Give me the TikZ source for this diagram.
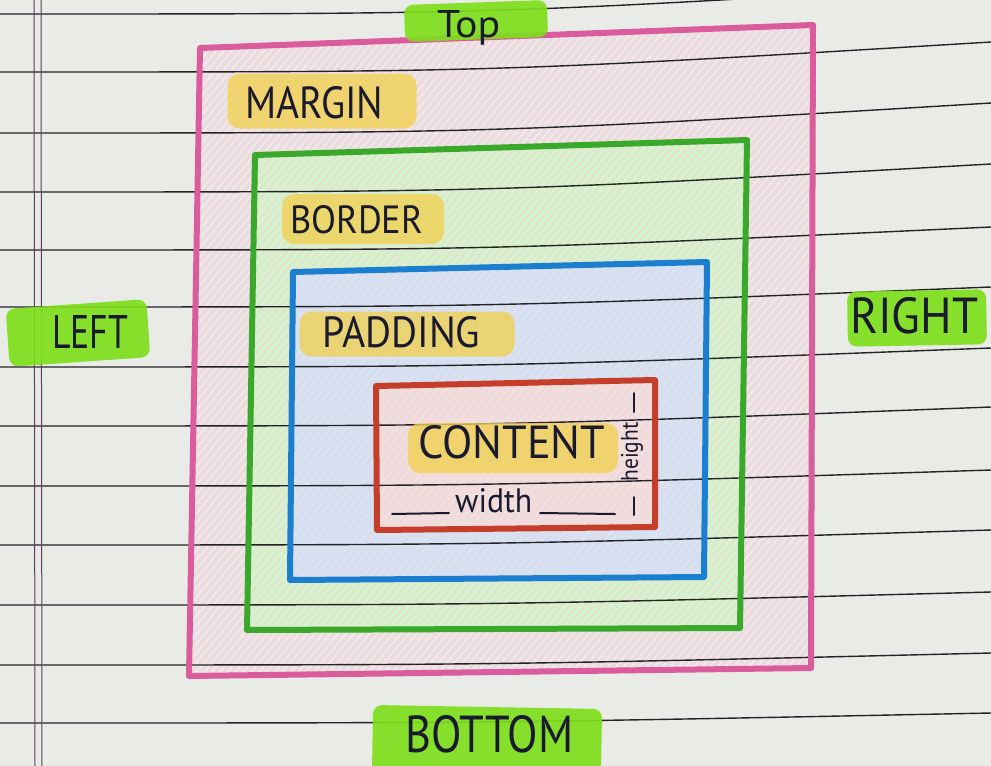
\documentclass[tikz,border=0pt]{standalone}
\usepackage{fontspec}
\setmainfont{PT Sans}
\usepackage{graphicx}
\usetikzlibrary{patterns.meta}
\definecolor{paper}{RGB}{233,235,231}
\definecolor{ruleink}{RGB}{35,35,40}
\definecolor{marginink}{RGB}{96,60,96}
\definecolor{pinkline}{RGB}{218,92,156}
\definecolor{greenline}{RGB}{58,168,42}
\definecolor{blueline}{RGB}{28,126,206}
\definecolor{redline}{RGB}{196,62,42}
\definecolor{pinkfill}{RGB}{232,222,225}
\definecolor{greenfill}{RGB}{222,232,206}
\definecolor{bluefill}{RGB}{214,224,236}
\definecolor{redfill}{RGB}{236,224,224}
\definecolor{hlgreen}{RGB}{126,222,26}
\definecolor{hlyellow}{RGB}{240,208,80}
\definecolor{penink}{RGB}{26,26,46}
\begin{document}
\begin{tikzpicture}[x=1pt,y=-1pt,
  ruled/.style={draw=ruleink,line width=1.4pt},
  vrule/.style={draw=marginink,line width=1pt},
  boxline/.style={line width=6pt,line join=round,line cap=round},
  hatch/.style={pattern={Lines[angle=50,distance=6pt,line width=1.3pt]},pattern color=#1},
  hlg/.style={fill=hlgreen,opacity=0.92,rounded corners=9pt,inner sep=0pt},
  hly/.style={fill=hlyellow,opacity=0.78,rounded corners=12pt,inner sep=0pt},
  txt/.style={text=penink,inner sep=0pt,anchor=base west},
  stroke/.style={draw=penink,line width=2pt,line cap=round}]
\useasboundingbox (0,0) rectangle (991,766);
\clip (0,0) rectangle (991,766);
\fill[paper] (0,0) rectangle (991,766);
% region fills
\fill[pinkfill] (200,48) -- (813,25) -- (811,668) -- (189,676) -- cycle;
\path[hatch=pink!35] (200,48) -- (813,25) -- (811,668) -- (189,676) -- cycle;
\fill[greenfill] (255,155) -- (747,140) -- (740,628) -- (247,630) -- cycle;
\path[hatch=green!20] (255,155) -- (747,140) -- (740,628) -- (247,630) -- cycle;
\fill[bluefill] (293,272) -- (707,262) -- (704,577) -- (290,580) -- cycle;
\path[hatch=blue!12] (293,272) -- (707,262) -- (704,577) -- (290,580) -- cycle;
\fill[redfill] (376,386) -- (655,380) -- (655,527) -- (377,530) -- cycle;
\path[hatch=red!18] (376,386) -- (655,380) -- (655,527) -- (377,530) -- cycle;
% ruled paper
\foreach \l/\r in {14/-16,72/42,133/103,192/164,250/227,307/287,367/348,426/407,486/470,545/530,605/592,665/653,723/713}
  \draw[ruled] (0,\l) .. controls (495,\l) .. (991,\r);
\draw[vrule] (34,0) -- (35,766);
\draw[vrule] (41,0) -- (42,766);
% box outlines
\draw[boxline,draw=pinkline] (200,48) -- (813,25) -- (811,668) -- (189,676) -- cycle;
\draw[boxline,draw=greenline] (255,155) -- (747,140) -- (740,628) -- (247,630) -- cycle;
\draw[boxline,draw=blueline] (293,272) -- (707,262) -- (704,577) -- (290,580) -- cycle;
\draw[boxline,draw=redline] (376,386) -- (655,380) -- (655,527) -- (377,530) -- cycle;
% highlights
\node[hlg,minimum width=143pt,minimum height=37pt,rotate=2] (hlTop) at (476,21) {};
\node[hly,minimum width=189pt,minimum height=55pt] (hlMargin) at (322,101) {};
\node[hly,minimum width=162pt,minimum height=50pt] (hlBorder) at (363,219) {};
\node[hly,minimum width=215pt,minimum height=45pt] (hlPadding) at (407,334) {};
\node[hly,minimum width=210pt,minimum height=50pt] (hlContent) at (513,448) {};
\node[hlg,minimum width=141pt,minimum height=58pt,rotate=4] (hlLeft) at (78,333) {};
\node[hlg,minimum width=139pt,minimum height=55pt,rotate=1] (hlRight) at (917,318) {};
\node[hlg,minimum width=229pt,minimum height=70pt,rotate=-1] (hlBottom) at (487,742) {};
% labels
\node[txt] (top) at (437,37) {\resizebox{63pt}{27pt}{Top}};
\node[txt] (margin) at (245,118) {\resizebox{138pt}{32pt}{MARGIN}};
\node[txt] (border) at (290,233) {\resizebox{133pt}{28pt}{BORDER}};
\node[txt] (padding) at (322,347) {\resizebox{158pt}{31pt}{PADDING}};
\node[txt] (content) at (418,458) {\resizebox{187pt}{33pt}{CONTENT}};
\node[txt] (left) at (52,348) {\resizebox{76pt}{33pt}{LEFT}};
\node[txt] (right) at (850,333) {\resizebox{128pt}{36pt}{RIGHT}};
\node[txt] (bottom) at (405,752) {\resizebox{168pt}{37pt}{BOTTOM}};
\node[txt] (width) at (455,512) {\resizebox{77pt}{24pt}{width}};
\node[text=penink,inner sep=0pt,rotate=90] (height) at (632,452) {\resizebox{59pt}{17pt}{height}};
% dimension strokes
\coordinate (wl1) at (392,514); \coordinate (wl2) at (449,513);
\coordinate (wr1) at (540,513); \coordinate (wr2) at (615,514);
\coordinate (ht1) at (634,393); \coordinate (ht2) at (634,412);
\coordinate (hb1) at (634,497); \coordinate (hb2) at (634,515);
\draw[stroke] (wl1) -- (wl2);
\draw[stroke] (wr1) -- (wr2);
\draw[stroke] (ht1) -- (ht2);
\draw[stroke] (hb1) -- (hb2);
\end{tikzpicture}
\end{document}
